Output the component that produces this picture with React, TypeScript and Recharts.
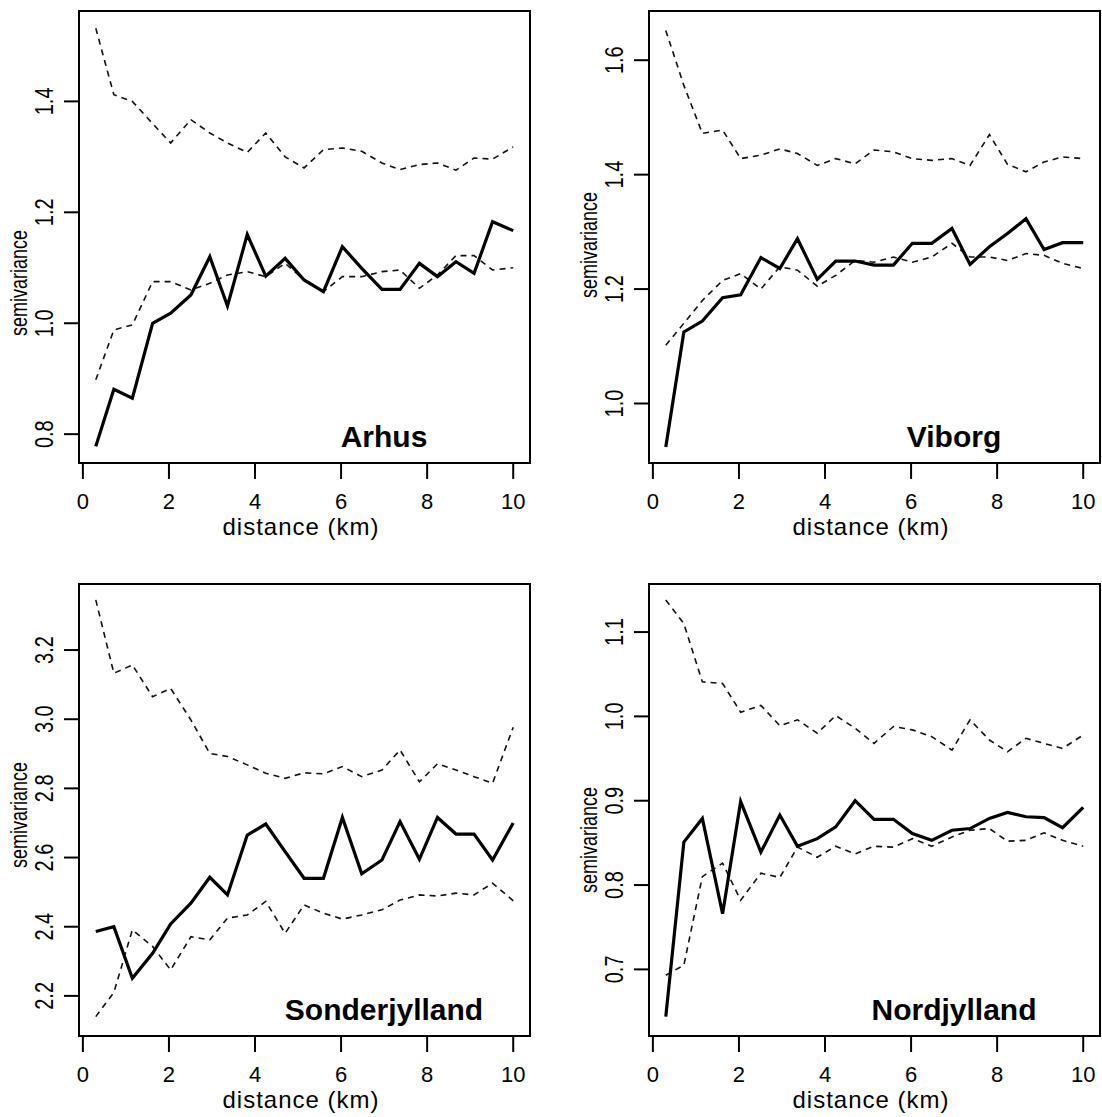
import { LineChart, Line, XAxis, YAxis, ReferenceArea } from 'recharts';

// lag distances (km), shared by all four regions
const distanceKm = [0.3, 0.72, 1.15, 1.62, 2.04, 2.51, 2.95, 3.36, 3.82, 4.25, 4.7, 5.14, 5.59, 6.03, 6.48, 6.95, 7.37, 7.82, 8.24, 8.67, 9.09, 9.52, 10.0];

const arhusObs = [0.778, 0.881, 0.865, 1.0, 1.018, 1.051, 1.12, 1.031, 1.16, 1.085, 1.117, 1.078, 1.057, 1.138, 1.099, 1.061, 1.061, 1.108, 1.084, 1.111, 1.09, 1.183, 1.167];
const arhusLow = [0.898, 0.988, 0.997, 1.075, 1.075, 1.06, 1.072, 1.087, 1.093, 1.084, 1.108, 1.078, 1.057, 1.084, 1.084, 1.093, 1.096, 1.063, 1.087, 1.122, 1.122, 1.096, 1.1];
const arhusHigh = [1.532, 1.412, 1.4, 1.36, 1.325, 1.367, 1.343, 1.325, 1.308, 1.343, 1.3, 1.28, 1.313, 1.316, 1.31, 1.289, 1.277, 1.286, 1.289, 1.276, 1.298, 1.296, 1.318];

const viborgObs = [0.924, 1.125, 1.144, 1.185, 1.19, 1.255, 1.236, 1.288, 1.217, 1.249, 1.249, 1.242, 1.242, 1.28, 1.28, 1.306, 1.243, 1.274, 1.297, 1.323, 1.269, 1.281, 1.281];
const viborgLow = [1.102, 1.14, 1.18, 1.215, 1.227, 1.2, 1.239, 1.233, 1.205, 1.224, 1.25, 1.247, 1.256, 1.247, 1.256, 1.28, 1.256, 1.256, 1.25, 1.262, 1.259, 1.245, 1.236];
const viborgHigh = [1.652, 1.556, 1.472, 1.478, 1.428, 1.434, 1.445, 1.437, 1.416, 1.428, 1.419, 1.443, 1.44, 1.428, 1.425, 1.428, 1.416, 1.47, 1.418, 1.405, 1.422, 1.431, 1.428];

const sonderObs = [2.386, 2.4, 2.251, 2.323, 2.408, 2.468, 2.543, 2.492, 2.665, 2.697, 2.617, 2.54, 2.54, 2.716, 2.553, 2.593, 2.704, 2.595, 2.716, 2.668, 2.668, 2.593, 2.7];
const sonderLow = [2.14, 2.21, 2.391, 2.343, 2.275, 2.371, 2.362, 2.425, 2.434, 2.473, 2.381, 2.463, 2.439, 2.422, 2.434, 2.449, 2.477, 2.492, 2.489, 2.497, 2.492, 2.526, 2.475];
const sonderHigh = [3.345, 3.133, 3.157, 3.065, 3.089, 2.998, 2.901, 2.892, 2.868, 2.844, 2.829, 2.845, 2.842, 2.863, 2.834, 2.853, 2.911, 2.819, 2.871, 2.853, 2.834, 2.815, 2.977];

const nordObs = [0.644, 0.851, 0.879, 0.766, 0.899, 0.839, 0.883, 0.846, 0.855, 0.869, 0.9, 0.878, 0.878, 0.861, 0.853, 0.865, 0.867, 0.879, 0.886, 0.881, 0.88, 0.868, 0.892];
const nordLow = [0.693, 0.705, 0.81, 0.826, 0.782, 0.814, 0.809, 0.845, 0.833, 0.846, 0.837, 0.846, 0.845, 0.855, 0.846, 0.857, 0.865, 0.867, 0.852, 0.853, 0.862, 0.853, 0.846];
const nordHigh = [1.138, 1.11, 1.041, 1.039, 1.005, 1.013, 0.989, 0.996, 0.98, 1.001, 0.986, 0.968, 0.988, 0.984, 0.976, 0.96, 0.996, 0.972, 0.958, 0.974, 0.968, 0.962, 0.978];

const xTicks = [0, 2, 4, 6, 8, 10];
const xDomain: [number, number] = [-0.09, 10.39];

const FONT = '"Liberation Sans", Arial, sans-serif';

const panels = [
  { name: 'Arhus', left: 0, top: 0, obs: arhusObs, low: arhusLow, high: arhusHigh, domain: [0.748, 1.563], ticks: [0.8, 1.0, 1.2, 1.4], ylabY: 283 },
  { name: 'Viborg', left: 570, top: 0, obs: viborgObs, low: viborgLow, high: viborgHigh, domain: [0.896, 1.686], ticks: [1.0, 1.2, 1.4, 1.6], ylabY: 245 },
  { name: 'Sonderjylland', left: 0, top: 573, obs: sonderObs, low: sonderLow, high: sonderHigh, domain: [2.084, 3.391], ticks: [2.2, 2.4, 2.6, 2.8, 3.0, 3.2], ylabY: 815 - 573 },
  { name: 'Nordjylland', left: 570, top: 573, obs: nordObs, low: nordLow, high: nordHigh, domain: [0.621, 1.157], ticks: [0.7, 0.8, 0.9, 1.0, 1.1], ylabY: 840 - 573 },
];

function XTick(props: any) {
  const { x, y, payload } = props;
  return (
    <text x={x} y={y} dy="0.72em" textAnchor="middle" fontSize={22} fontFamily={FONT} fill="#000">
      {payload.value}
    </text>
  );
}

function YTick(props: any) {
  const { x, y, payload } = props;
  const cx = x - 20;
  return (
    <text
      transform={`translate(${cx},${y}) rotate(-90) scale(1,1.3)`}
      textAnchor="middle"
      dominantBaseline="central"
      fontSize={20}
      fontFamily={FONT}
      fill="#000"
    >
      {payload.value.toFixed(1)}
    </text>
  );
}

function Panel({ p }: { p: (typeof panels)[number] }) {
  const data = distanceKm.map((d, i) => ({ d, obs: p.obs[i], low: p.low[i], high: p.high[i] }));
  return (
    <div style={{ position: 'absolute', left: p.left, top: p.top }}>
      <LineChart width={545} height={540} data={data} margin={{ top: 11, right: 15, bottom: 17, left: 19 }}>
        <XAxis
          type="number"
          dataKey="d"
          domain={xDomain}
          ticks={xTicks}
          allowDataOverflow
          axisLine={false}
          tickLine={{ stroke: '#000', strokeWidth: 2 }}
          tickSize={16}
          tickMargin={14}
          height={60}
          tick={<XTick />}
          interval={0}
        />
        <YAxis
          type="number"
          domain={p.domain}
          ticks={p.ticks}
          allowDataOverflow
          axisLine={false}
          tickLine={{ stroke: '#000', strokeWidth: 2 }}
          tickSize={15}
          tickMargin={0}
          width={60}
          tick={<YTick />}
          interval={0}
        />
        <ReferenceArea
          x1={xDomain[0]}
          x2={xDomain[1]}
          y1={p.domain[0]}
          y2={p.domain[1]}
          fill="none"
          stroke="#000"
          strokeWidth={2}
          ifOverflow="visible"
        />
        <Line type="linear" dataKey="high" stroke="#111" strokeWidth={1.6} strokeDasharray="6 5" dot={false} isAnimationActive={false} />
        <Line type="linear" dataKey="low" stroke="#111" strokeWidth={1.6} strokeDasharray="6 5" dot={false} isAnimationActive={false} />
        <Line type="linear" dataKey="obs" stroke="#000" strokeWidth={3.2} dot={false} isAnimationActive={false} />
      </LineChart>
      <svg width={545} height={540} style={{ position: 'absolute', left: 0, top: 0, pointerEvents: 'none' }}>
        <text x={301} y={535} textAnchor="middle" fontSize={24} letterSpacing={1} fontFamily={FONT} fill="#000">
          distance (km)
        </text>
        <text
          transform={`translate(19,${p.ylabY}) rotate(-90) scale(1,1.3)`}
          textAnchor="middle"
          dominantBaseline="central"
          fontSize={18}
          fontFamily={FONT}
          fill="#000"
        >
          semivariance
        </text>
        <text x={384} y={447} textAnchor="middle" fontSize={30} fontWeight="bold" fontFamily={FONT} fill="#000">
          {p.name}
        </text>
      </svg>
    </div>
  );
}

export default function App() {
  return (
    <div style={{ position: 'absolute', left: 0, top: 0, width: 1102, height: 1117, background: '#fff', overflow: 'hidden' }}>
      {panels.map((p) => (
        <Panel key={p.name} p={p} />
      ))}
    </div>
  );
}
